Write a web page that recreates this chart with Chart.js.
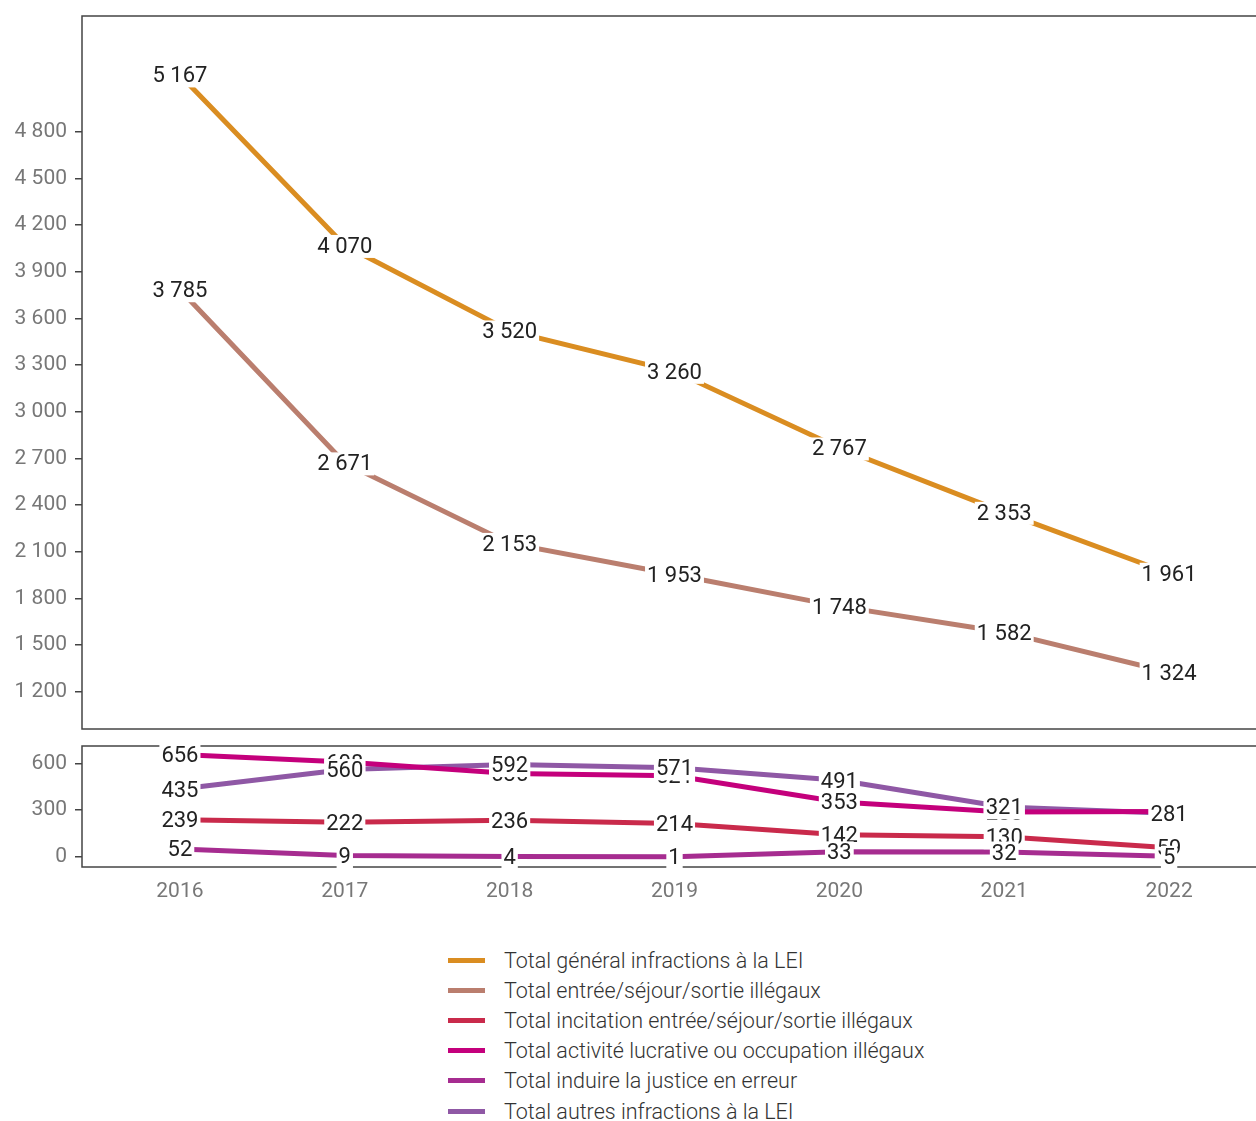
<!DOCTYPE html>
<html>
<head>
<meta charset="utf-8">
<script src="https://cdn.jsdelivr.net/npm/chart.js@4.4.1/dist/chart.umd.min.js"></script>
<style>
  html, body { margin: 0; padding: 0; background: #fff; overflow: hidden; width: 1256px; height: 1121px; }
  #wrap { position: relative; width: 1256px; height: 1121px; overflow: hidden; }
  canvas { position: absolute; left: 0; }
  #topChart { top: 0; }
  #bottomChart { top: 735px; }
  #legend { position: absolute; left: 448px; top: 945px; font-family: Roboto, sans-serif; font-size: 21.5px; font-weight: 300; color: #333; }
  .row { height: 30.2px; display: flex; align-items: center; white-space: nowrap; }
  .key { width: 37px; height: 5px; margin-right: 19px; }
</style>
</head>
<body>
<div id="wrap">
  <canvas id="topChart" width="1270" height="740"></canvas>
  <canvas id="bottomChart" width="1270" height="190"></canvas>
  <div id="legend"></div>
</div>
<script>
const years = [2016, 2017, 2018, 2019, 2020, 2021, 2022];

const totalGeneral = [5167, 4070, 3520, 3260, 2767, 2353, 1961];
const entreeSejour = [3785, 2671, 2153, 1953, 1748, 1582, 1324];
const incitation   = [239, 222, 236, 214, 142, 130, 59];
const activite     = [656, 608, 535, 521, 353, 288, 292];
const induire      = [52, 9, 4, 1, 33, 32, 5];
const autres       = [435, 560, 592, 571, 491, 321, 281];

const topTicks = [1200, 1500, 1800, 2100, 2400, 2700, 3000, 3300, 3600, 3900, 4200, 4500, 4800];
const bottomTicks = [0, 300, 600];

const names = [
    'Total général infractions à la LEI',
    'Total entrée/séjour/sortie illégaux',
    'Total incitation entrée/séjour/sortie illégaux',
    'Total activité lucrative ou occupation illégaux',
    'Total induire la justice en erreur',
    'Total autres infractions à la LEI'
];
const colors = ['#DA8D21', '#BA7E6E', '#C92A4B', '#C4007C', '#A62C90', '#8F58A5'];

const fmt = v => String(v).replace(/\B(?=(\d{3})+(?!\d))/g, ' ');

function series(idx, values) {
    return {
        label: names[idx],
        data: values.map((v, i) => ({ x: years[i], y: v })),
        borderColor: colors[idx],
        backgroundColor: colors[idx],
        borderWidth: 5,
        pointRadius: 0,
        tension: 0,
        borderCapStyle: 'butt'
    };
}

// frame around each panel
const framePlugin = {
    id: 'frame',
    afterDatasetsDraw(chart) {
        const a = chart.chartArea, ctx = chart.ctx;
        ctx.save();
        ctx.strokeStyle = '#444';
        ctx.lineWidth = 1.5;
        ctx.strokeRect(a.left, a.top, a.right - a.left, a.bottom - a.top);
        ctx.restore();
    }
};

// value labels with white box, drawn over all lines
const labelPlugin = {
    id: 'valueLabels',
    afterDatasetsDraw(chart) {
        const ctx = chart.ctx;
        ctx.save();
        ctx.font = '400 22px Roboto';
        ctx.textAlign = 'center';
        ctx.textBaseline = 'middle';
        chart.data.datasets.forEach((ds, di) => {
            const meta = chart.getDatasetMeta(di);
            meta.data.forEach((pt, i) => {
                const txt = fmt(ds.data[i].y);
                const w = ctx.measureText(txt).width + 4;
                const h = 23;
                ctx.fillStyle = '#fff';
                ctx.fillRect(pt.x - w / 2, pt.y - h / 2 + 1, w, h);
                ctx.fillStyle = '#222';
                ctx.fillText(txt, pt.x, pt.y + 2);
            });
        });
        ctx.restore();
    }
};

const xScale = (show) => ({
    type: 'linear',
    display: show,
    min: 2015.406,
    max: 2022.594,
    afterBuildTicks: s => { s.ticks = years.map(v => ({ value: v })); },
    afterFit: s => { if (show) s.height = 58; s.paddingLeft = 0; s.paddingRight = 0; },
    grid: { display: false, drawTicks: false },
    border: { display: false },
    ticks: {
        color: '#777',
        font: { family: 'Roboto', size: 21, weight: '400' },
        padding: 12,
        callback: v => String(v)
    }
});

const yScale = (min, max, ticks) => ({
    type: 'linear',
    min: min,
    max: max,
    afterBuildTicks: s => { s.ticks = ticks.map(v => ({ value: v })); },
    afterFit: s => { s.width = 82; s.paddingTop = 0; s.paddingBottom = 0; },
    grid: { display: true, drawOnChartArea: false, drawTicks: true, tickLength: 7, color: '#444', lineWidth: 1.5 },
    border: { display: false },
    ticks: {
        color: '#777',
        font: { family: 'Roboto', size: 21, weight: '400' },
        padding: 8,
        callback: v => fmt(v)
    }
});

const common = {
    responsive: false,
    animation: false,
    plugins: { legend: { display: false }, tooltip: { enabled: false } }
};

new Chart(document.getElementById('topChart').getContext('2d'), {
    type: 'line',
    data: { datasets: [series(0, totalGeneral), series(1, entreeSejour)] },
    options: Object.assign({}, common, {
        layout: { padding: { top: 16, right: 3, bottom: 11, left: 0 } },
        scales: { x: xScale(false), y: yScale(959, 5546, topTicks) }
    }),
    plugins: [framePlugin, labelPlugin]
});

new Chart(document.getElementById('bottomChart').getContext('2d'), {
    type: 'line',
    data: { datasets: [series(2, incitation), series(3, activite), series(4, induire), series(5, autres)] },
    options: Object.assign({}, common, {
        layout: { padding: { top: 11, right: 3, bottom: 0, left: 0 } },
        scales: { x: xScale(true), y: yScale(-64, 711, bottomTicks) }
    }),
    plugins: [framePlugin, labelPlugin]
});

// legend
const legend = document.getElementById('legend');
names.forEach((n, i) => {
    const row = document.createElement('div');
    row.className = 'row';
    const key = document.createElement('span');
    key.className = 'key';
    key.style.background = colors[i];
    const t = document.createElement('span');
    t.textContent = n;
    row.appendChild(key);
    row.appendChild(t);
    legend.appendChild(row);
});
</script>
</body>
</html>
